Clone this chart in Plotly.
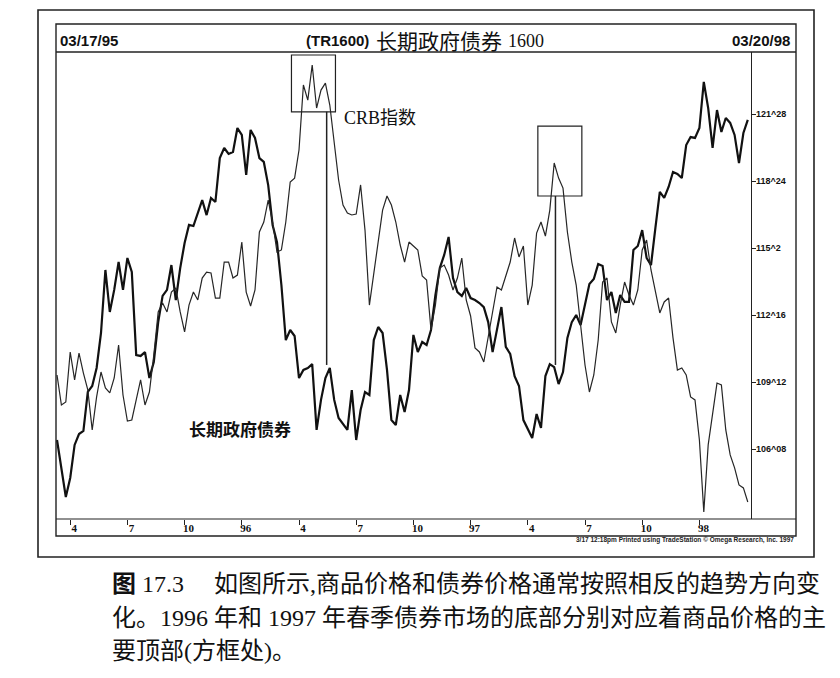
import pandas as pd
import plotly.graph_objects as go

# 页面 body 自带 8px 边距，图幅相应缩小，坐标整体平移
PAGE_MARGIN = 8
W, H = 840 - 2 * PAGE_MARGIN, 678 - 2 * PAGE_MARGIN

# 周线数据：1995-03-17 ~ 1998-03-20，共 158 周
start_date = "1995-03-17"
n_weeks = 158

# 长期政府债券（粗线），价格
bond_prices = [
    106.67, 105.36, 104.01, 104.90, 106.44, 106.95, 107.09, 108.91, 109.19, 110.03,
    111.66, 114.60, 112.64, 113.67, 114.97, 113.67, 115.16, 114.51, 110.63, 110.59,
    110.77, 109.56, 110.31, 112.17, 113.39, 113.67, 114.83, 113.20, 114.69, 115.86,
    116.70, 116.65, 117.30, 117.86, 117.16, 117.96, 117.77, 119.82, 120.29, 120.01,
    120.10, 121.22, 120.90, 119.03, 121.13, 120.76, 119.82, 119.64, 118.56, 116.70,
    115.90, 113.90, 111.33, 111.80, 111.52, 109.56, 109.94, 110.03, 110.21, 107.14,
    108.54, 109.56, 110.03, 108.54, 107.70, 107.42, 107.14, 109.00, 106.67, 108.07,
    108.91, 108.77, 111.33, 111.94, 111.66, 109.94, 107.60, 107.37, 108.77, 107.98,
    109.00, 111.57, 110.77, 111.24, 111.10, 111.80, 113.43, 114.69, 115.30, 116.14,
    114.23, 113.57, 113.39, 113.76, 113.29, 113.20, 113.06, 112.87, 112.17, 110.77,
    111.80, 112.87, 111.01, 110.68, 109.65, 109.19, 107.60, 107.14, 106.76, 107.88,
    107.23, 109.65, 110.21, 110.07, 109.28, 109.84, 111.43, 112.17, 112.50, 112.03,
    112.97, 113.95, 114.18, 114.88, 114.79, 113.20, 113.57, 112.59, 113.43, 113.11,
    113.11, 115.53, 115.72, 116.46, 115.16, 114.83, 116.56, 118.24, 117.96, 118.47,
    119.17, 119.08, 118.89, 120.43, 120.80, 120.76, 121.22, 123.37, 122.15, 120.29,
    122.06, 121.04, 121.69, 121.46, 120.90, 119.59, 120.99, 121.60,
]

# CRB 指数（细线）
crb_index = [
    238.00, 235.69, 235.92, 239.77, 237.62, 239.69, 238.15, 236.85, 233.77, 236.31,
    238.23, 237.00, 236.62, 237.77, 240.31, 236.46, 234.46, 234.54, 236.08, 237.62,
    235.69, 236.69, 239.54, 242.85, 243.54, 242.85, 244.38, 244.69, 242.85, 241.31,
    243.38, 244.38, 243.77, 245.46, 245.92, 245.85, 243.92, 243.92, 246.69, 246.69,
    245.46, 245.69, 248.23, 244.38, 243.31, 244.54, 249.00, 249.77, 251.46, 249.77,
    247.46, 247.62, 249.77, 252.85, 253.15, 255.31, 260.31, 259.15, 261.85, 258.54,
    259.92, 260.46, 258.77, 255.69, 253.00, 251.08, 250.46, 250.31, 250.38, 252.62,
    249.15, 243.38, 245.92, 248.15, 250.69, 251.77, 251.08, 249.77, 248.00, 246.69,
    248.23, 247.92, 247.62, 245.62, 245.31, 241.46, 243.38, 246.23, 246.46, 245.69,
    244.54, 245.46, 247.00, 243.77, 242.54, 240.08, 239.77, 239.00, 240.85, 243.00,
    244.77, 244.54, 245.69, 246.69, 248.54, 247.08, 247.92, 243.38, 244.92, 248.92,
    249.77, 248.69, 250.69, 254.31, 253.15, 252.38, 249.00, 246.69, 244.92, 241.85,
    238.77, 236.69, 238.00, 240.69, 245.15, 245.46, 242.08, 241.23, 243.38, 245.15,
    244.15, 243.38, 244.54, 247.62, 248.38, 246.08, 244.54, 242.77, 243.62, 243.92,
    240.85, 238.38, 238.54, 238.00, 236.31, 236.08, 233.00, 227.46, 232.62, 234.92,
    237.38, 237.23, 233.77, 231.85, 230.85, 229.54, 229.31, 228.23,
]

# x 轴：每季度第一根周线
tick_dates = [
    "1995-04-07", "1995-07-07", "1995-10-06", "1996-01-05", "1996-04-05", "1996-07-05",
    "1996-10-04", "1997-01-03", "1997-04-04", "1997-07-04", "1997-10-03", "1998-01-02",
]
tick_labels = ["4", "7", "10", "96", "4", "7", "10", "97", "4", "7", "10", "98"]

# y 轴（右侧），债券报价为 32 分制
price_ticks = [106.25, 109.375, 112.5, 115.625, 118.75, 121.875]
price_labels = ["106^08", "109^12", "112^16", "115^2", "118^24", "121^28"]

# 方框：CRB 主要顶部 (起始日, 结束日, CRB 下沿, CRB 上沿)
crb_top_boxes = [
    ("1996-03-24", "1996-06-02", 258.25, 262.62),
    ("1997-04-20", "1997-06-29", 251.77, 257.15),
]
# 从方框往下指向债券底部的竖线 (日期, 起点价格, 终点价格)
bond_bottom_marks = [
    ("1996-05-19", 121.98, 110.17),
    ("1997-05-18", 118.05, 110.17),
]

caption_lines = [
    "如图所示,商品价格和债券价格通常按照相反的趋势方向变",
    "化。1996 年和 1997 年春季债券市场的底部分别对应着商品价格的主",
    "要顶部(方框处)。",
]

dates = pd.date_range(start=start_date, periods=n_weeks, freq="7D")


def px(x):
    return (x - PAGE_MARGIN) / W


def py(y):
    return 1 - (y - PAGE_MARGIN) / H


SANS = "Liberation Sans, Arial, sans-serif"
SERIF = "Liberation Serif, Noto Sans CJK SC, serif"
CJK = "Noto Sans CJK SC, sans-serif"

fig = go.Figure()

fig.add_trace(
    go.Scatter(
        x=dates, y=crb_index, name="CRB指数", mode="lines",
        line=dict(color="#262626", width=1.2), yaxis="y2",
    )
)
fig.add_trace(
    go.Scatter(
        x=dates, y=bond_prices, name="长期政府债券", mode="lines",
        line=dict(color="#111111", width=2.2),
    )
)

shapes = []
# 外框、内框、标题分隔线、日期栏分隔线
shapes.append(dict(type="rect", xref="paper", yref="paper", x0=px(38), x1=px(814),
                   y0=py(557), y1=py(10), line=dict(color="#222", width=1.6)))
shapes.append(dict(type="rect", xref="paper", yref="paper", x0=px(56), x1=px(796),
                   y0=py(536), y1=py(24), line=dict(color="#222", width=1.4)))
shapes.append(dict(type="line", xref="paper", yref="paper", x0=px(56), x1=px(796),
                   y0=py(52), y1=py(52), line=dict(color="#222", width=1.4)))
shapes.append(dict(type="line", xref="paper", yref="paper", x0=px(56), x1=px(796),
                   y0=py(519), y1=py(519), line=dict(color="#222", width=1.2)))

for d0, d1, lo, hi in crb_top_boxes:
    shapes.append(dict(type="rect", xref="x", yref="y2", x0=d0, x1=d1, y0=lo, y1=hi,
                       line=dict(color="#222", width=1.2)))
for d, top, bottom in bond_bottom_marks:
    shapes.append(dict(type="line", xref="x", yref="y", x0=d, x1=d, y0=top, y1=bottom,
                       line=dict(color="#222", width=1.5)))

annotations = [
    dict(text="<b>03/17/95</b>", x=px(58), y=py(40), xanchor="left",
         font=dict(family=SANS, size=15, color="#111")),
    dict(text="<b>03/20/98</b>", x=px(792), y=py(40), xanchor="right",
         font=dict(family=SANS, size=15, color="#111")),
    dict(text="<b>(TR1600)</b>", x=px(371), y=py(40), xanchor="right",
         font=dict(family=SANS, size=15, color="#111")),
    dict(text="长期政府债券", x=px(374), y=py(40), xanchor="left",
         font=dict(family=CJK, size=21, color="#111")),
    dict(text="1600", x=px(506), y=py(41), xanchor="left",
         font=dict(family=SERIF, size=18, color="#111")),
    dict(text="CRB指数", x=px(342), y=py(118), xanchor="left",
         font=dict(family=SERIF, size=18, color="#111")),
    dict(text="<b>长期政府债券</b>", x=px(187), y=py(428), xanchor="left",
         font=dict(family=CJK, size=17, color="#111")),
    dict(text="<b>3/17 12:18pm Printed using TradeStation © Omega Research, Inc. 1997</b>",
         x=px(796), y=py(540), xanchor="right",
         font=dict(family=SANS, size=6.5, color="#222")),
    # 图注
    dict(text="<b>图</b> 17.3", x=px(110), y=py(584), xanchor="left",
         font=dict(family=SERIF, size=24, color="#111")),
]
for text, x0, y0 in zip(caption_lines, [212, 110, 110], [584, 618, 651]):
    annotations.append(dict(text=text, x=px(x0), y=py(y0), xanchor="left",
                            font=dict(family=SERIF, size=24, color="#111")))
for a in annotations:
    a.update(xref="paper", yref="paper", yanchor="middle", showarrow=False)

fig.update_layout(
    width=W, height=H, autosize=False,
    margin=dict(l=0, r=0, t=0, b=0),
    paper_bgcolor="white", plot_bgcolor="white",
    showlegend=False,
    shapes=shapes,
    annotations=annotations,
    xaxis=dict(
        type="date",
        domain=[px(56), px(751)],
        range=[dates[0] - pd.Timedelta(days=1.6), dates[-1] + pd.Timedelta(days=5.1)],
        tickvals=tick_dates, ticktext=tick_labels,
        ticks="outside", ticklen=5, tickcolor="#222", tickwidth=1,
        ticklabelshift=4, ticklabelstandoff=-6,
        tickfont=dict(family="Liberation Serif, serif", size=11, color="#111",
                      weight="bold"),
        showgrid=False, zeroline=False, showline=False,
    ),
    yaxis=dict(
        domain=[py(519), py(52)],
        range=[102.985, 124.767],
        side="right",
        tickvals=price_ticks, ticktext=price_labels,
        ticks="outside", ticklen=4, tickcolor="#222", tickwidth=1,
        ticklabelstandoff=-2,
        tickfont=dict(family=SANS, size=9, color="#111", weight="bold"),
        showline=True, linecolor="#222", linewidth=1.2,
        showgrid=False, zeroline=False,
    ),
    yaxis2=dict(
        domain=[py(519), py(52)],
        range=[226.92, 262.85],
        overlaying="y", visible=False,
    ),
)

fig.write_html("out.html")
